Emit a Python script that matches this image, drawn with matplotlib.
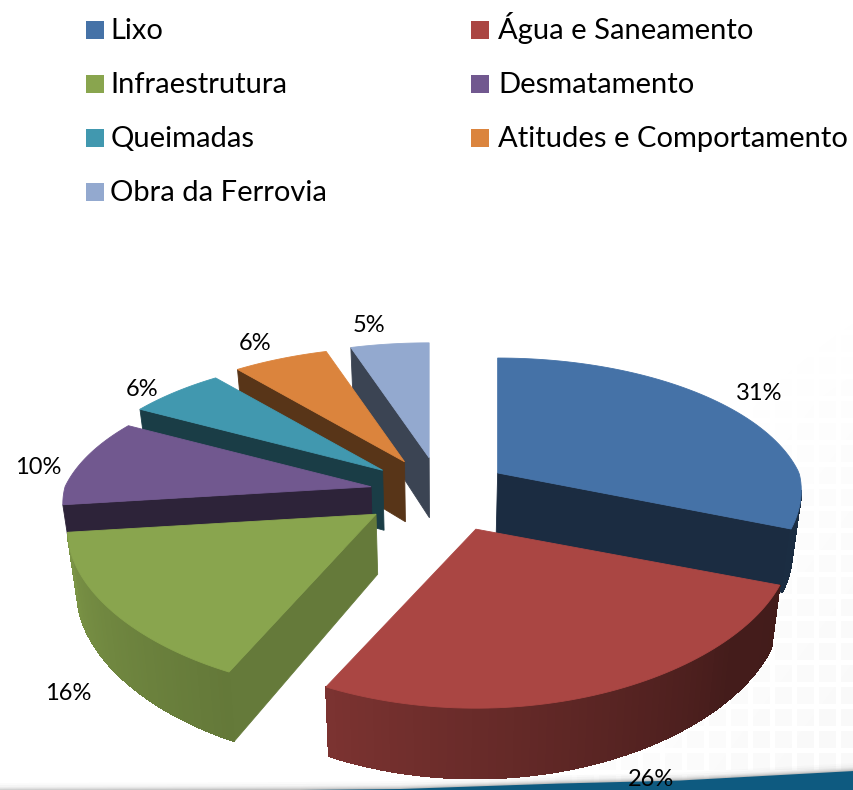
import matplotlib
matplotlib.use('Agg')
import matplotlib.pyplot as plt
import numpy as np

categories = ["Lixo", "Água e Saneamento", "Infraestrutura", "Desmatamento",
              "Queimadas", "Atitudes e Comportamento", "Obra da Ferrovia"]
values = [31, 26, 16, 10, 6, 6, 5]
colors = ["#4572a7", "#aa4643", "#89a54e", "#71588f", "#4198af", "#db843d", "#93a9cf"]

plt.rcParams['font.family'] = ['Lato', 'DejaVu Sans']

# pie geometry, in pixels
cx, cy = 441, 493
rx, ry = 306, 140
persp = 0.218
depth = 60
# per slice pull-out and small nudges, the original is not quite regular
explode = [0.25, 0.25, 0.265, 0.235, 0.25, 0.25, 0.25]
nudge_x = [-6, 7, 0, 0, 0, 0, 0]
nudge_y = [0, 3, -1, 0, 0, 0, 0]
scale_x = [0.985, 1.02, 1, 1, 1, 1, 1]
# how dark the flat cut face of each slice is
face_shade = [0.39, 0.39, 0.74, 0.40, 0.40, 0.40, 0.40]
# back to front
draw_order = [6, 5, 4, 3, 2, 0, 1]


def rim(theta):
    t = np.radians(theta)
    w = 1 / (1 + persp * np.cos(t))
    wx = w ** 0.55 if w > 1 else w
    return rx * np.sin(t) * wx, -ry * np.cos(t) * w, w


def lower(x, y, w):
    # bottom of the slab, slightly smaller because of the perspective
    return x - 0.025 * (x - cx), y + depth * w ** 0.65


def wall_shade(theta):
    return np.interp(theta, [60, 130, 205, 263], [0.38, 0.40, 0.73, 0.90])


def dark(color, f):
    return tuple(c * f for c in matplotlib.colors.to_rgb(color))


def quad(ax, pts, color, z, aa=True):
    ax.fill([p[0] for p in pts], [p[1] for p in pts], color=color, lw=0.6, zorder=z, antialiased=aa)


fig = plt.figure(figsize=(8.54, 7.9), dpi=100)
ax = fig.add_axes([0, 0, 1, 1])

# faint grid of the slide background
yy, xx = np.mgrid[0:790, 0:854]
cell = ((xx % 22 > 4) & (yy % 22 > 4)).astype(float)
fade = np.clip((xx + 0.75 * yy - 1000) / 350, 0, 1) * np.clip((yy - 200) / 200, 0, 1)
bg = 255 - 6 * cell * fade
ax.imshow(bg, cmap='gray', vmin=0, vmax=255, extent=(0, 854, 790, 0),
          aspect='auto', zorder=0, interpolation='bilinear')

# swoosh at the bottom edge
sx = np.array([0, 300, 400, 560, 680, 854])
sy = np.array([791, 790, 789, 783.5, 780.5, 771])
for i, a in zip([8, 6, 4, 3, 2, 1], [0.02, 0.03, 0.05, 0.07, 0.10, 0.15]):
    ax.fill_between(sx, sy - i, 790, color="#555555", alpha=a, lw=0, zorder=1)
ax.fill_between(sx, sy, 790, color="#0e5a80", lw=0, zorder=1)

# slices
edges = np.concatenate([[0], np.cumsum(values)]) * 3.6
z = 2
for i in draw_order:
    th1, th2 = edges[i], edges[i + 1]
    mid = (th1 + th2) / 2
    ax_x = cx + explode[i] * 303 * np.sin(np.radians(mid)) + nudge_x[i]
    ax_y = cy - explode[i] * 142.6 * np.cos(np.radians(mid)) + nudge_y[i]
    thetas = np.linspace(th1, th2, 70)
    pts = [rim(t) for t in thetas]
    top = [(ax_x + p[0] * scale_x[i], ax_y + p[1]) for p in pts]
    bottom = [lower(ax_x + p[0] * scale_x[i], ax_y + p[1], p[2]) for p in pts]
    apex_low = lower(ax_x, ax_y, 1.0)

    # flat cut faces, only those turned towards the viewer
    mx, my, _ = rim(mid)
    for k in [0, -1]:
        ex, ey = top[k][0] - ax_x, top[k][1] - ax_y
        nx, ny = -ey, ex
        if nx * mx + ny * my > 0:
            nx, ny = -nx, -ny
        if ny > 0:
            quad(ax, [(ax_x, ax_y), top[k], bottom[k], apex_low], dark(colors[i], face_shade[i]), z)
            z += 1

    # rounded wall
    for k in range(len(thetas) - 1):
        ex, ey = top[k + 1][0] - top[k][0], top[k + 1][1] - top[k][1]
        nx, ny = -ey, ex
        if nx * (top[k][0] - ax_x) + ny * (top[k][1] - ax_y) < 0:
            nx, ny = -nx, -ny
        if ny > 0:
            quad(ax, [top[k], top[k + 1], bottom[k + 1], bottom[k]],
                 dark(colors[i], wall_shade(thetas[k])), z, aa=False)
    z += 1

    quad(ax, [(ax_x, ax_y)] + top, colors[i], z)
    z += 1

# percent labels
label_x = [759, 651, 68, 38, 142, 255, 369]
label_y = [394, 780, 693, 467, 389, 343, 325]
for v, x, y in zip(values, label_x, label_y):
    ax.text(x, y, "%d%%" % v, ha='center', va='center', fontsize=17, color='black', zorder=100)

# legend, two columns
leg_x = [86, 471]
leg_y = [39, 93, 147, 201]
for n, (name, col) in enumerate(zip(categories, colors)):
    x = leg_x[n % 2]
    y = leg_y[n // 2]
    ax.add_patch(plt.Rectangle((x, y - 18), 18, 18, facecolor=col, lw=0, zorder=100))
    ax.text(x + (27 if n % 2 else 24.5), y, name, ha='left', va='baseline', fontsize=21,
            color='black', zorder=100)

ax.set_xlim(0, 854)
ax.set_ylim(790, 0)
ax.axis('off')
fig.savefig("out.png", dpi=100)
